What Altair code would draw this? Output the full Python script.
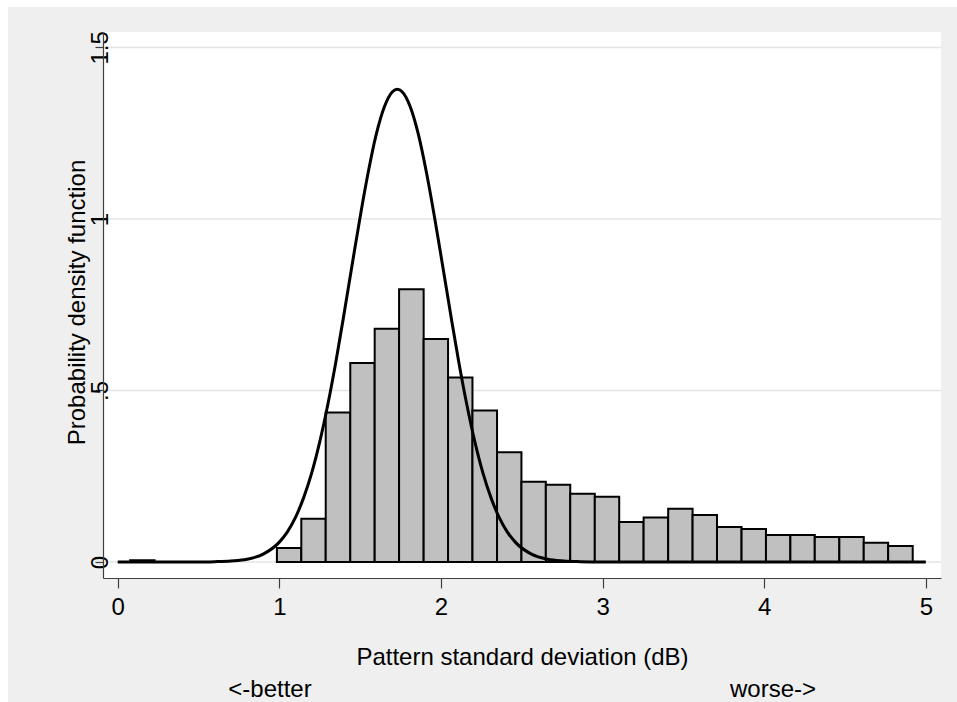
import altair as alt
import pandas as pd

# Histogram bins (lower / upper edges, density heights)
bin_left = [0.077, 0.985, 1.136, 1.287, 1.439, 1.590, 1.741, 1.893, 2.044,
            2.195, 2.347, 2.498, 2.649, 2.800, 2.952, 3.103, 3.254, 3.406,
            3.557, 3.708, 3.860, 4.011, 4.162, 4.313, 4.465, 4.616, 4.767]
bin_right = [0.228, 1.136, 1.287, 1.439, 1.590, 1.741, 1.893, 2.044, 2.195,
             2.347, 2.498, 2.649, 2.800, 2.952, 3.103, 3.254, 3.406, 3.557,
             3.708, 3.860, 4.011, 4.162, 4.313, 4.465, 4.616, 4.767, 4.919]
bin_height = [0.005, 0.041, 0.126, 0.436, 0.580, 0.680, 0.795, 0.650, 0.538,
              0.442, 0.320, 0.234, 0.225, 0.199, 0.190, 0.117, 0.130, 0.155,
              0.137, 0.102, 0.096, 0.079, 0.079, 0.073, 0.073, 0.056, 0.047]

# Overlaid density curve
curve_x = [0.00, 0.50, 0.60, 0.70, 0.80, 0.90, 1.00, 1.05, 1.10, 1.15, 1.20,
           1.25, 1.30, 1.35, 1.40, 1.45, 1.50, 1.55, 1.60, 1.65, 1.70, 1.73,
           1.76, 1.81, 1.86, 1.91, 1.96, 2.01, 2.06, 2.11, 2.16, 2.21, 2.26,
           2.31, 2.36, 2.41, 2.46, 2.56, 2.66, 2.76, 2.86, 3.00, 5.00]
curve_y = [0.000, 0.000, 0.001, 0.003, 0.008, 0.023, 0.058, 0.088, 0.130,
           0.187, 0.259, 0.350, 0.459, 0.584, 0.722, 0.865, 1.006, 1.136,
           1.247, 1.327, 1.371, 1.378, 1.371, 1.327, 1.247, 1.136, 1.006,
           0.865, 0.722, 0.584, 0.459, 0.350, 0.259, 0.187, 0.130, 0.088,
           0.058, 0.023, 0.008, 0.003, 0.001, 0.000, 0.000]

x_ticks = [0, 1, 2, 3, 4, 5]
y_ticks = [0, 0.5, 1, 1.5]
x_title = "Pattern standard deviation (dB)"
y_title = "Probability density function"
note_left = "<-better"
note_right = "worse->"

FONT = "Liberation Sans, Arial, sans-serif"
W, H = 838, 546

bars_df = pd.DataFrame({"lo": bin_left, "hi": bin_right, "h": bin_height})
curve_df = pd.DataFrame({"x": curve_x, "y": curve_y})
grid_df = pd.DataFrame({"g": y_ticks})
one = pd.DataFrame({"d": [0]})

xscale = alt.Scale(domain=[-0.091, 5.094], nice=False, zero=False)
yscale = alt.Scale(domain=[-0.0466, 1.545], nice=False, zero=False)

x_axis = alt.Axis(
    values=x_ticks, format="d", grid=False, zindex=1,
    domainColor="#404040", domainWidth=1.2, tickColor="#404040",
    tickSize=10, tickWidth=1.2, labelFont=FONT, labelFontSize=24,
    labelColor="black", labelPadding=7, labelBaseline="top",
    title=x_title, titleFont=FONT, titleFontSize=24,
    titleFontWeight="normal", titleColor="black",
    titleBaseline="middle", titleY=79)
y_axis = alt.Axis(
    values=y_ticks, grid=False, zindex=1,
    labelExpr="datum.value == 0.5 ? '.5' : toString(datum.value)",
    domainColor="#404040", domainWidth=1.2, tickColor="#404040",
    tickSize=8, tickWidth=1.2, labelFont=FONT, labelFontSize=24,
    labelColor="black", labelAngle=-90, labelAlign="center",
    labelBaseline="middle", labelPadding=-5,
    title=y_title, titleFont=FONT, titleFontSize=24,
    titleFontWeight="normal", titleColor="black",
    titleAngle=-90, titleAlign="center", titleBaseline="middle",
    titleX=-26, titleY=270)

outer = alt.Chart(one).mark_rect(color="#efefef").encode(
    x=alt.value(-95), x2=alt.value(854), y=alt.value(-25), y2=alt.value(670))
inner = alt.Chart(one).mark_rect(color="white").encode(
    x=alt.value(0), x2=alt.value(W), y=alt.value(0), y2=alt.value(H))

grid = alt.Chart(grid_df).mark_rule(color="#e4e4e4", strokeWidth=1.6).encode(
    y=alt.Y("g:Q", scale=yscale, axis=y_axis))

bars = alt.Chart(bars_df).mark_rect(
    fill="#c0c0c0", stroke="black", strokeWidth=2).encode(
    x=alt.X("lo:Q", scale=xscale, axis=x_axis),
    x2="hi:Q",
    y=alt.Y("h:Q", scale=yscale, axis=y_axis),
    y2=alt.datum(0),
)

curve = alt.Chart(curve_df).mark_line(
    color="black", strokeWidth=3, interpolate="monotone").encode(
    x=alt.X("x:Q", scale=xscale, axis=x_axis),
    y=alt.Y("y:Q", scale=yscale, axis=y_axis))

notes_df = pd.DataFrame({"t": [note_left, note_right], "px": [167, 670]})
notes = alt.Chart(notes_df).mark_text(
    font=FONT, fontSize=24, color="black", baseline="middle", align="center"
).encode(text="t:N", x=alt.X("px:Q", scale=None), y=alt.value(658))

chart = alt.layer(outer, inner, grid, bars, curve, notes).properties(
    width=W, height=H,
    autosize=alt.AutoSizeParams(type="none"),
    padding={"left": 103, "top": 32, "right": 16, "bottom": 124},
).configure(background="white").configure_view(stroke=None)

chart.save("out.html", embed_options={"renderer": "svg", "actions": False})
